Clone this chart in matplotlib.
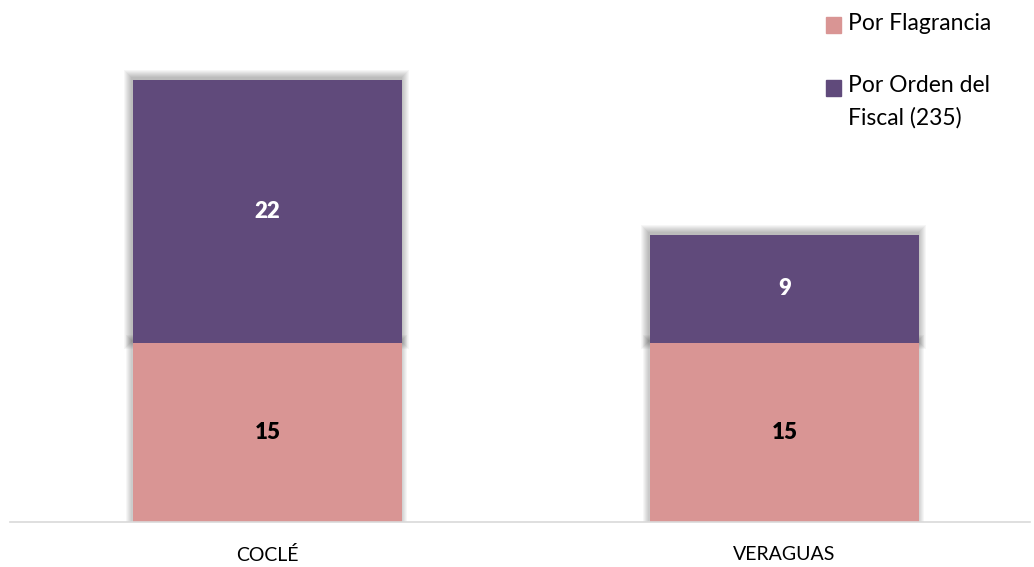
import matplotlib
matplotlib.use("Agg")
import matplotlib.pyplot as plt
from matplotlib.patches import Rectangle

# Data
categories = ["COCLÉ", "VERAGUAS"]
flagrancia = [15, 15]
orden_fiscal = [22, 9]
legend_labels = ["Por Flagrancia", "Por Orden del\nFiscal (235)"]

PINK = "#D99594"
PURPLE = "#604A7B"

plt.rcParams["font.family"] = ["Lato", "DejaVu Sans"]

fig = plt.figure(figsize=(10.34, 5.67), dpi=100)
ax = fig.add_axes([10 / 1034, 45 / 567, 1020 / 1034, 472 / 567])

x = list(range(len(categories)))
width = 0.52
ax.set_xlim(-0.498, 1.475)
ax.set_ylim(0, 39.5)

# pixel -> data conversions for the soft shadow
px_x = (1.475 + 0.498) / 1020
px_y = 39.5 / 472

def shadow(xc, bottom, height, n=9):
    for k in range(1, n):
        ax.bar(xc - 1 * px_x, height + 2 * k * px_y, bottom=bottom - k * px_y + 2 * px_y,
               width=width + 2 * k * px_x, color="black", alpha=0.035,
               linewidth=0, zorder=1)

for i in x:
    shadow(i, 0, flagrancia[i], n=7)
    shadow(i, flagrancia[i], orden_fiscal[i])

ax.bar(x, flagrancia, width=width, color=PINK, zorder=3)
ax.bar(x, orden_fiscal, width=width, bottom=flagrancia, color=PURPLE, zorder=3)

for i in x:
    ax.text(i, flagrancia[i] / 2, str(flagrancia[i]), ha="center", va="center",
            fontsize=16, fontweight="heavy", color="black", zorder=4)
    ax.text(i, flagrancia[i] + orden_fiscal[i] / 2, str(orden_fiscal[i]),
            ha="center", va="center", fontsize=16, fontweight="heavy",
            color="white", zorder=4)

ax.set_xticks(x)
ax.set_xticklabels(categories, fontsize=14)
ax.tick_params(axis="x", length=0, pad=17)
ax.set_yticks([])
for s in ["top", "right", "left"]:
    ax.spines[s].set_visible(False)
ax.spines["bottom"].set_color("#D9D9D9")
ax.spines["bottom"].set_linewidth(1.2)
ax.spines["bottom"].set_zorder(5)

# Legend (square aligned with first line of each label)
W, H = 1034, 567
legend_y = [25, 88]
for lab, col, yy in zip(legend_labels, [PINK, PURPLE], legend_y):
    fig.patches.append(Rectangle((826 / W, 1 - (yy + 7.5) / H), 15 / W, 15 / H,
                                 transform=fig.transFigure, color=col))
    fig.text(848 / W, 1 - (yy - 12.5) / H, lab, ha="left", va="top",
             fontsize=16.5, linespacing=1.6)

fig.savefig("out.png", dpi=100)
